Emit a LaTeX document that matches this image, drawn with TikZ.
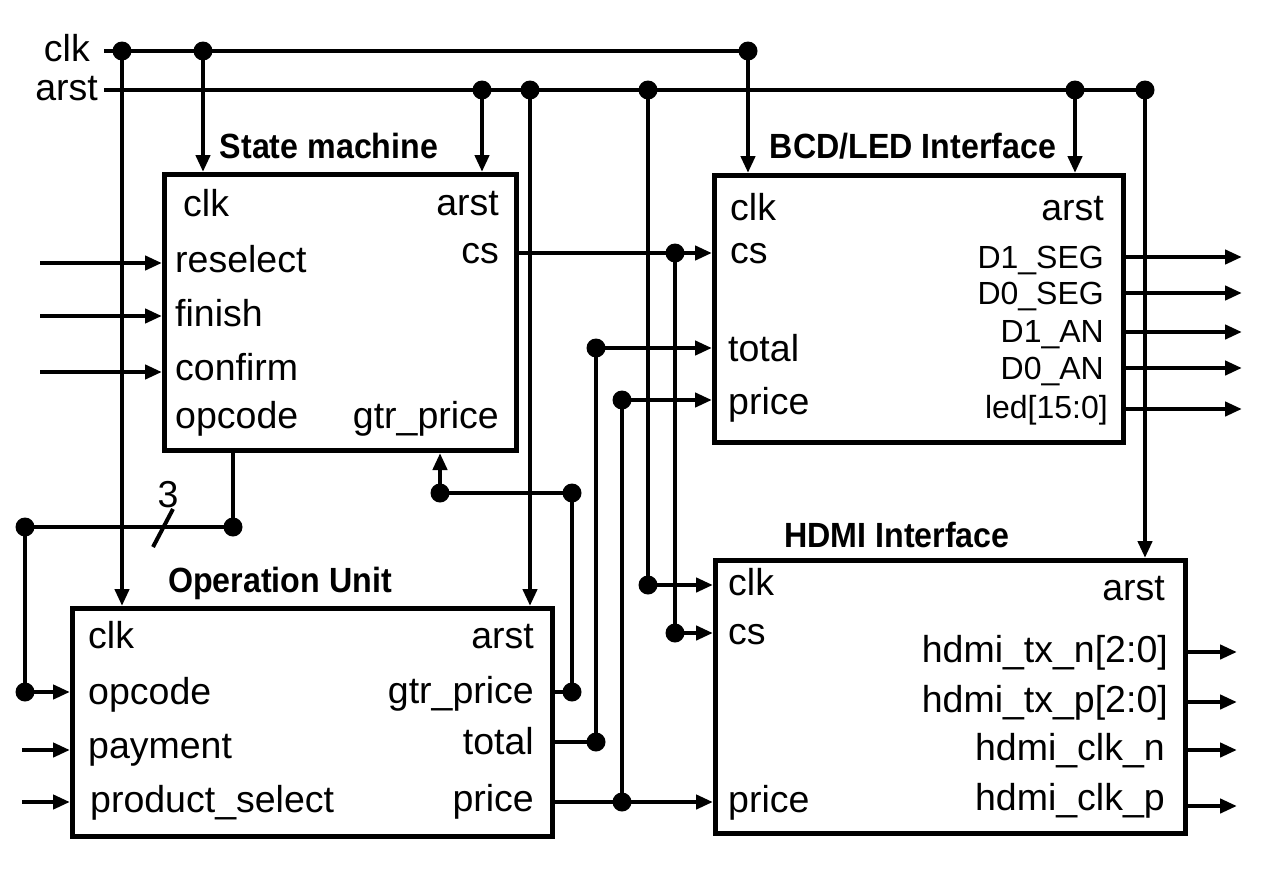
\documentclass[tikz,border=0pt]{standalone}
\usepackage{fontspec}
\setmainfont{Liberation Sans}
\newfontfamily\titlefont{Liberation Sans}[UprightFont={* Bold}, FakeStretch=0.92]
\usetikzlibrary{positioning, arrows.meta, calc}

\begin{document}
\begin{tikzpicture}[
  x=1pt, y=-1pt,
  font=\fontsize{37.5}{44}\selectfont,
  block/.style={draw, line width=5pt, anchor=north west, inner sep=0pt},
  title/.style={font=\titlefont\fontsize{35}{42}\selectfont, anchor=base, inner sep=0pt},
  lport/.style={anchor=base west, inner sep=0pt},
  rport/.style={anchor=base east, inner sep=0pt},
  small/.style={font=\fontsize{32}{38}\selectfont},
  wire/.style={line width=4.5pt},
  arr/.style={wire, -{Triangle[length=17pt, width=14pt]}}
]
\useasboundingbox (0,0) rectangle (1277,870);

\node[block, minimum width=352pt, minimum height=276pt] (sm) at (162,172) {};
\node[block, minimum width=480pt, minimum height=228pt] (ou) at (70,606) {};
\node[block, minimum width=409pt, minimum height=267pt] (bcd) at (712,173) {};
\node[block, minimum width=470pt, minimum height=273pt] (hdmi) at (713,558) {};

\node[title] (smtitle) at (329,158) {State machine};
\node[title] (outitle) at (280,592) {Operation Unit};
\node[title] (bcdtitle) at (913,158) {BCD/LED Interface};
\node[title] (hdmititle) at (897,547) {HDMI Interface};

\node[rport] (clklbl) at (90,61) {clk};
\node[rport] (arstlbl) at (98,100) {arst};

\node[lport] (smclk) at (183,216) {clk};
\node[lport] (smres) at (175,272) {reselect};
\node[lport] (smfin) at (175,326) {finish};
\node[lport] (smcon) at (175,380) {confirm};
\node[lport] (smop) at (175,428) {opcode};
\node[rport] (smarst) at (499,215) {arst};
\node[rport] (smcs) at (499,263) {cs};
\node[rport] (smgtr) at (499,428) {gtr\_price};

\node[lport] (ouclk) at (88,648) {clk};
\node[lport] (ouop) at (88,704) {opcode};
\node[lport] (oupay) at (88,758) {payment};
\node[lport] (ousel) at (90,812) {product\_select};
\node[rport] (ouarst) at (534,648) {arst};
\node[rport] (ougtr) at (534,703) {gtr\_price};
\node[rport] (outot) at (534,754) {total};
\node[rport] (oupri) at (534,811) {price};

\node[lport] (bcdclk) at (730,220) {clk};
\node[lport] (bcdcs) at (730,263) {cs};
\node[lport] (bcdtot) at (728,361) {total};
\node[lport] (bcdpri) at (728,414) {price};
\node[rport] (bcdarst) at (1104,220) {arst};
\node[rport, small] (d1seg) at (1104,268) {D1\_SEG};
\node[rport, small] (d0seg) at (1104,304) {D0\_SEG};
\node[rport, small] (d1an) at (1104,342) {D1\_AN};
\node[rport, small] (d0an) at (1104,379) {D0\_AN};
\node[rport, small] (led) at (1108,418) {led[15:0]};

\node[lport] (hclk) at (728,595) {clk};
\node[lport] (hcs) at (728,644) {cs};
\node[lport] (hpri) at (728,812) {price};
\node[rport] (harst) at (1165,600) {arst};
\node[rport] (htxn) at (1168,662) {hdmi\_tx\_n[2:0]};
\node[rport] (htxp) at (1168,712) {hdmi\_tx\_p[2:0]};
\node[rport] (hckn) at (1165,760) {hdmi\_clk\_n};
\node[rport] (hckp) at (1165,810) {hdmi\_clk\_p};

\coordinate (clkstart) at (104,51);
\coordinate (arststart) at (104,90);
\coordinate (c1) at (122,51);
\coordinate (c2) at (203,51);
\coordinate (c3) at (748,51);
\coordinate (a1) at (482,90);
\coordinate (a2) at (530,90);
\coordinate (a3) at (648,90);
\coordinate (a4) at (1075,90);
\coordinate (a5) at (1145,90);
\coordinate (opa) at (233,527);
\coordinate (opb) at (25,527);
\coordinate (opc) at (25,692);
\coordinate (bus) at (163,527);
\coordinate (ga) at (572,692);
\coordinate (gb) at (572,493);
\coordinate (gc) at (440,493);
\coordinate (csa) at (675,253);
\coordinate (csb) at (675,633);
\coordinate (ta) at (596,742);
\coordinate (tb) at (596,348);
\coordinate (pa) at (622,802);
\coordinate (pb) at (622,400);
\coordinate (hc) at (648,585);

\draw[wire] (clkstart) -- (c3);
\draw[wire] (arststart) -- (a5);
\draw[arr] (c1) -- (c1 |- ou.north);
\draw[arr] (c2) -- (c2 |- sm.north);
\draw[arr] (c3) -- (c3 |- bcd.north);
\draw[arr] (a1) -- (a1 |- sm.north);
\draw[arr] (a2) -- (a2 |- ou.north);
\draw[arr] (a4) -- (a4 |- bcd.north);
\draw[arr] (a5) -- (a5 |- hdmi.north);
\draw[wire] (a3) -- (hc);
\draw[arr] (hc) -- (hc -| hdmi.west);

\foreach \n/\y in {res/263, fin/316, con/372} {
  \coordinate (\n in) at (40,\y);
  \draw[arr] (\n in) -- (\n in -| sm.west);
}
\foreach \n/\y in {pay/750, sel/802} {
  \coordinate (\n in) at (22,\y);
  \draw[arr] (\n in) -- (\n in -| ou.west);
}
\foreach \n/\y in {d1seg/257, d0seg/293, d1an/332, d0an/368, led/409} {
  \coordinate (\n out) at (1242,\y);
  \draw[arr] (\n out -| bcd.east) -- (\n out);
}
\foreach \n/\y in {txn/652, txp/702, ckn/750, ckp/806} {
  \coordinate (\n out) at (1237,\y);
  \draw[arr] (\n out -| hdmi.east) -- (\n out);
}

\draw[wire] (sm.south -| opa) -- (opa) -- (opb) -- (opc);
\draw[arr] (opc) -- (opc -| ou.west);
\draw[line width=4pt] ($(bus)+(-10,20)$) -- ($(bus)+(10,-18)$);
\node (buswidth) at (168,495) {3};

\draw[wire] (ou.east |- ga) -- (ga) -- (gb) -- (gc);
\draw[arr] (gc) -- (gc |- sm.south);

\draw[wire] (sm.east |- csa) -- (csa) -- (csb);
\draw[arr] (csa) -- (csa -| bcd.west);
\draw[arr] (csb) -- (csb -| hdmi.west);

\draw[wire] (ou.east |- ta) -- (ta) -- (tb);
\draw[arr] (tb) -- (tb -| bcd.west);

\draw[wire] (ou.east |- pa) -- (pa) -- (pb);
\draw[arr] (pa) -- (pa -| hdmi.west);
\draw[arr] (pb) -- (pb -| bcd.west);

\foreach \p in {c1, c2, c3, a1, a2, a3, a4, a5, opa, opb, opc, ga, gb, gc, csa, csb, ta, tb, pa, pb, hc}
  \fill (\p) circle (9.5pt);
\end{tikzpicture}
\end{document}
